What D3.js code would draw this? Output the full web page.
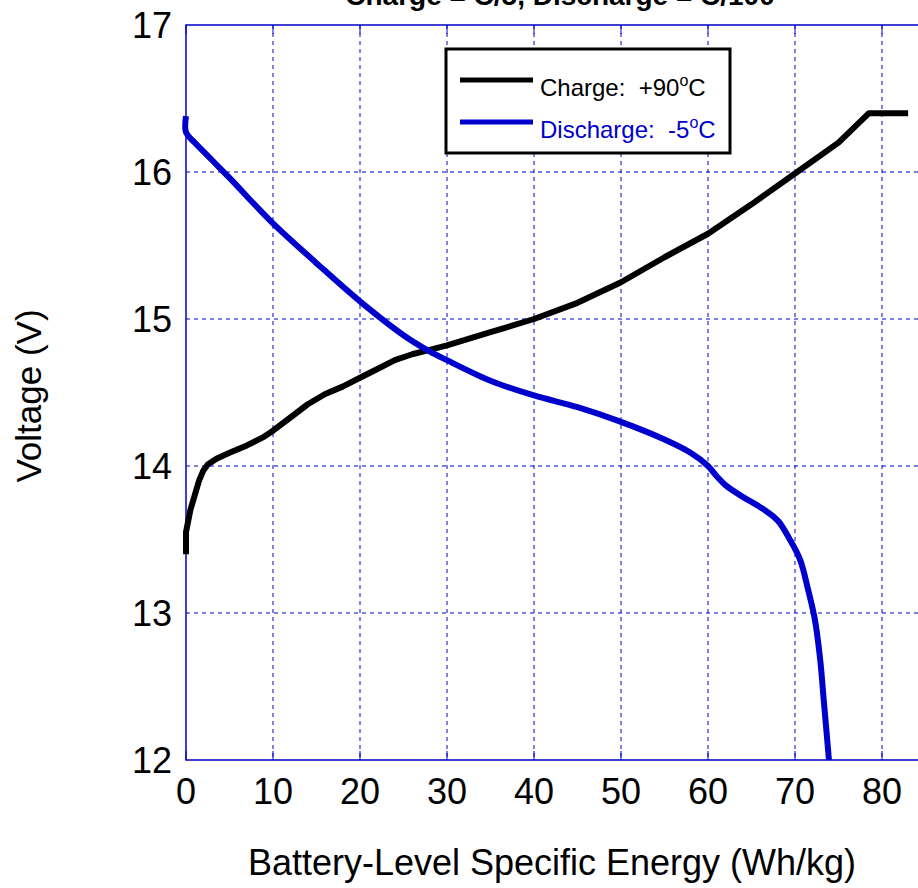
<!DOCTYPE html>
<html>
<head>
<meta charset="utf-8">
<script src="https://cdn.jsdelivr.net/npm/d3@7"></script>
<style>
	body { margin: 0; background: white; }
	svg { display: block; font-family: Arial, "Liberation Sans", sans-serif; }
</style>
</head>
<body>
<div id="chart"></div>
<script>
// charge curve, +90C (energy Wh/kg, voltage V)
const chargeEnergy = [0, 0, 0.5, 1, 1.5, 2, 2.5, 3.5, 5, 7, 9, 10, 12, 14, 16, 18, 20, 22, 24, 26, 28, 30, 35, 40, 45, 50, 55, 60, 65, 70, 75, 78.5, 83]
const chargeVolt = [13.4, 13.55, 13.7, 13.8, 13.9, 13.97, 14.01, 14.05, 14.09, 14.14, 14.2, 14.24, 14.33, 14.42, 14.49, 14.54, 14.6, 14.66, 14.72, 14.76, 14.79, 14.82, 14.91, 15.0, 15.11, 15.25, 15.42, 15.58, 15.78, 15.99, 16.2, 16.4, 16.4]

// discharge curve, -5C
const dischargeEnergy = [0, 0, 1, 3, 5, 10, 15, 20, 25, 28, 30, 35, 40, 45, 50, 55, 58, 60, 61, 62, 64, 66, 68, 69.4, 70.6, 71.5, 72.3, 72.9, 73.3, 73.7, 73.9]
const dischargeVolt = [16.38, 16.27, 16.2, 16.08, 15.96, 15.65, 15.38, 15.12, 14.89, 14.78, 14.72, 14.58, 14.48, 14.4, 14.3, 14.18, 14.09, 14.0, 13.93, 13.87, 13.79, 13.72, 13.63, 13.5, 13.36, 13.16, 12.95, 12.68, 12.41, 12.14, 12.0]

const xTicks = [0, 10, 20, 30, 40, 50, 60, 70, 80]
const yTicks = [12, 13, 14, 15, 16, 17]

const gridBlue = '#0000cc'

const svg = d3.select('#chart')
	.append('svg')
	.attr('width', 918)
	.attr('height', 888)

let xScale = d3.scaleLinear()
	.domain([0, 80])
	.range([186, 882])

let yScale = d3.scaleLinear()
	.domain([12, 17])
	.range([760, 25])

// grid
svg.selectAll('vGrid')
	.data(xTicks.slice(1))
	.enter()
	.append('line')
	.attr('x1', d => xScale(d))
	.attr('x2', d => xScale(d))
	.attr('y1', yScale(17))
	.attr('y2', yScale(12))
	.attr('stroke', gridBlue)
	.attr('stroke-width', 1)
	.attr('stroke-dasharray', '4,4')

svg.selectAll('hGrid')
	.data(yTicks.slice(1, -1))
	.enter()
	.append('line')
	.attr('x1', xScale(0))
	.attr('x2', 918)
	.attr('y1', d => yScale(d))
	.attr('y2', d => yScale(d))
	.attr('stroke', gridBlue)
	.attr('stroke-width', 1)
	.attr('stroke-dasharray', '4,4')

// frame
svg.append('path')
	.attr('d', `M918,${yScale(17)}H${xScale(0)}V${yScale(12)}H918`)
	.attr('fill', 'none')
	.attr('stroke', gridBlue)
	.attr('stroke-width', 1.5)

// inward ticks top and bottom
xTicks.forEach(function(t){
	svg.append('line')
		.attr('x1', xScale(t)).attr('x2', xScale(t))
		.attr('y1', yScale(12)).attr('y2', yScale(12) - 9)
		.attr('stroke', gridBlue).attr('stroke-width', 1)
	svg.append('line')
		.attr('x1', xScale(t)).attr('x2', xScale(t))
		.attr('y1', yScale(17)).attr('y2', yScale(17) + 9)
		.attr('stroke', gridBlue).attr('stroke-width', 1)
})

// tick labels
svg.selectAll('xLabels')
	.data(xTicks)
	.enter()
	.append('text')
	.attr('x', d => xScale(d))
	.attr('y', 804)
	.attr('text-anchor', 'middle')
	.attr('font-size', 36)
	.text(d => d)

svg.selectAll('yLabels')
	.data(yTicks)
	.enter()
	.append('text')
	.attr('x', 172)
	.attr('y', d => yScale(d) + 13)
	.attr('text-anchor', 'end')
	.attr('font-size', 36)
	.text(d => d)

// axis titles
svg.append('text')
	.attr('x', 552)
	.attr('y', 875)
	.attr('text-anchor', 'middle')
	.attr('font-size', 36)
	.text('Battery-Level Specific Energy (Wh/kg)')

svg.append('text')
	.attr('transform', 'translate(41,396) rotate(-90)')
	.attr('text-anchor', 'middle')
	.attr('font-size', 35)
	.text('Voltage (V)')

// chart title, mostly cut off at the top like the original
svg.append('text')
	.attr('x', 560)
	.attr('y', 5)
	.attr('text-anchor', 'middle')
	.attr('font-size', 28)
	.attr('font-weight', 'bold')
	.text('Charge = C/5, Discharge = C/100')

// curves
let chargeLine = d3.line()
	.x(d => xScale(d[0]))
	.y(d => yScale(d[1]))

let dischargeLine = d3.line()
	.x(d => xScale(d[0]))
	.y(d => yScale(d[1]))
	.curve(d3.curveCatmullRom.alpha(0.5))

svg.append('path')
	.datum(chargeEnergy.map((e, i) => [e, chargeVolt[i]]))
	.attr('d', chargeLine)
	.attr('fill', 'none')
	.attr('stroke', 'black')
	.attr('stroke-width', 6)
	.attr('stroke-linejoin', 'round')

svg.append('path')
	.datum(dischargeEnergy.map((e, i) => [e, dischargeVolt[i]]))
	.attr('d', dischargeLine)
	.attr('fill', 'none')
	.attr('stroke', gridBlue)
	.attr('stroke-width', 6)

// legend
let legend = svg.append('g')

legend.append('rect')
	.attr('x', 446)
	.attr('y', 49)
	.attr('width', 284)
	.attr('height', 104)
	.attr('fill', 'white')
	.attr('stroke', 'black')
	.attr('stroke-width', 3)

let legendItems = [
	{label: 'Charge:  +90', color: 'black', y: 80},
	{label: 'Discharge:  -5', color: gridBlue, y: 122}
]

legendItems.forEach(function(d){
	legend.append('line')
		.attr('x1', 460).attr('x2', 533)
		.attr('y1', d.y).attr('y2', d.y)
		.attr('stroke', d.color)
		.attr('stroke-width', 5)
	let t = legend.append('text')
		.attr('x', 540)
		.attr('y', d.y + 16)
		.attr('font-size', 24)
		.attr('fill', d.color)
		.style('white-space', 'pre')
	t.append('tspan').text(d.label)
	t.append('tspan').attr('font-size', 16).attr('dy', -10).text('o')
	t.append('tspan').attr('dy', 10).text('C')
})
</script>
</body>
</html>
